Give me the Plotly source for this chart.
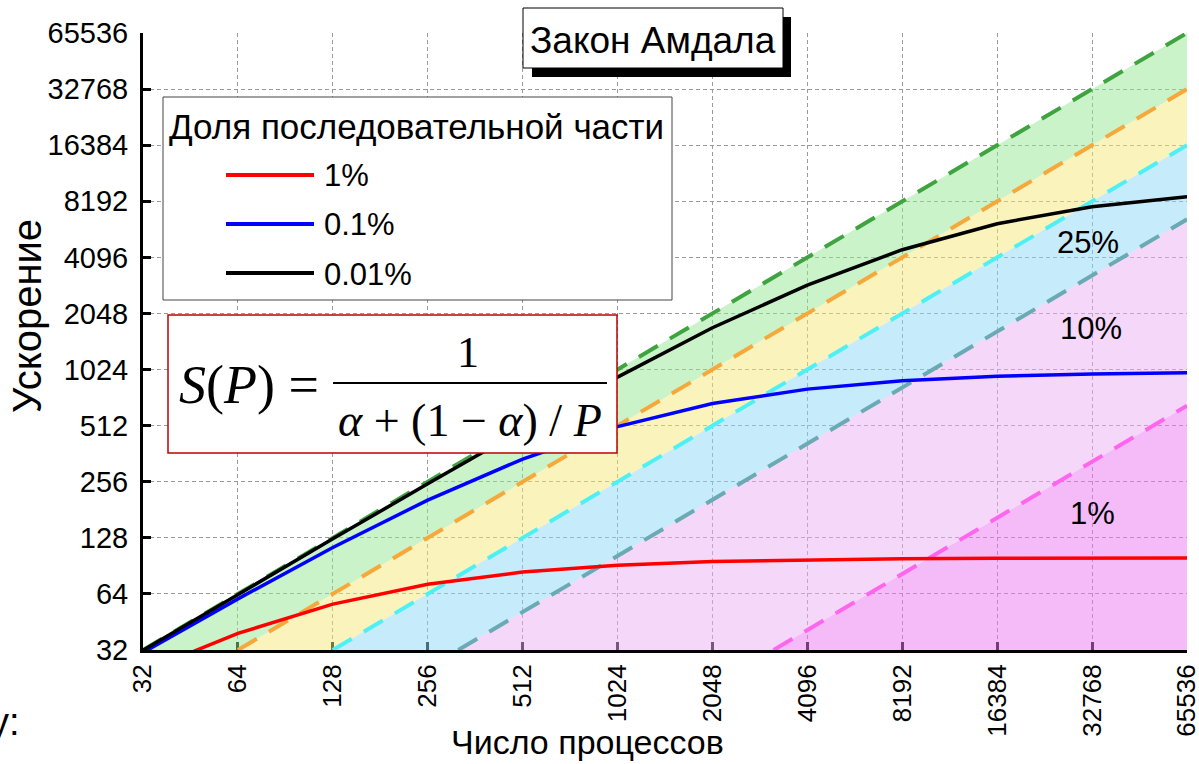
import plotly.graph_objects as go

# --- data -------------------------------------------------------------
procs = [32, 64, 128, 256, 512, 1024, 2048, 4096, 8192, 16384, 32768, 65536]
tick_text = [str(p) for p in procs]

# speedup, serial fraction 1 %, 0.1 %, 0.01 %
speedup_1 = [24.4, 39.3, 56.4, 72.1, 83.8, 91.2, 95.4, 97.6, 98.8, 99.4, 99.7, 99.8]
speedup_01 = [31.0, 60.2, 113.6, 204.0, 338.8, 506.0, 672.4, 804.0, 891.4, 942.5, 970.4, 985.0]
speedup_001 = [31.9, 63.6, 126.4, 249.4, 487.6, 933.0, 1716, 2907, 4502, 6210, 7661, 8677]

# efficiency guide lines: start / end points (P, S)
guide_100_p = [32, 65536];  guide_100_s = [32, 65536]
guide_50_p = [64, 65536];   guide_50_s = [32, 32768]
guide_25_p = [128, 65536];  guide_25_s = [32, 16384]
guide_10_p = [320, 65536];  guide_10_s = [32, 6553.6]
guide_1_p = [3200, 65536];  guide_1_s = [32, 655.36]

band_labels = ["25%", "10%", "1%"]
legend_labels = ["1%", "0.1%", "0.01%"]

# --- layout geometry (pixels of the 1199x764 page) --------------------
X0, X1, Y0, Y1 = 143, 1187, 33, 650
W, H = X1 - X0, Y1 - Y0


def px(x):
    return (x - X0) / W


def py(y):
    return (Y1 - y) / H


SANS = "Liberation Sans, Arial, sans-serif"
SERIF = "Liberation Serif, Times New Roman, serif"

fig = go.Figure()


def band(p_hi, s_hi, p_lo, s_lo, color):
    xs = list(p_hi) + list(reversed(p_lo))
    ys = list(s_hi) + list(reversed(s_lo))
    fig.add_trace(go.Scatter(x=xs, y=ys, mode="lines", fill="toself",
                             fillcolor=color, line=dict(width=0),
                             hoverinfo="skip", showlegend=False))


band(guide_100_p, guide_100_s, guide_50_p, guide_50_s, "rgba(150,232,150,0.5)")
band(guide_50_p, guide_50_s, guide_25_p, guide_25_s, "rgba(246,234,122,0.5)")
band(guide_25_p, guide_25_s, guide_10_p, guide_10_s, "rgba(142,216,248,0.5)")
band(guide_10_p, guide_10_s, guide_1_p, guide_1_s, "rgba(236,178,244,0.5)")
band(guide_1_p, guide_1_s, [32, 65536], [32, 32], "rgba(236,120,244,0.5)")

guides = [
    (guide_100_p, guide_100_s, "#3fa33f"),
    (guide_50_p, guide_50_s, "#f7a83a"),
    (guide_25_p, guide_25_s, "#4ff0f5"),
    (guide_10_p, guide_10_s, "#6aaab5"),
    (guide_1_p, guide_1_s, "#ff66ee"),
]
for gp, gs, col in guides:
    fig.add_trace(go.Scatter(x=gp, y=gs, mode="lines",
                             line=dict(color=col, width=4, dash="22px,14px"),
                             hoverinfo="skip", showlegend=False))

curves = [(speedup_1, "#ff0000"), (speedup_01, "#0000ff"), (speedup_001, "#000000")]
for s, col in curves:
    fig.add_trace(go.Scatter(x=procs, y=s, mode="lines",
                             line=dict(color=col, width=3.5),
                             showlegend=False))

axis_common = dict(
    type="log", tickvals=procs, ticktext=tick_text,
    showline=True, linewidth=3, linecolor="black",
    ticks="inside", ticklen=8, tickwidth=3, tickcolor="black",
    showgrid=True, gridcolor="#9a9a9a", gridwidth=1, griddash="4px,3px",
    zeroline=False, mirror=False, automargin=False, layer="below traces",
    ticklabeloverflow="allow",
)

fig.update_layout(
    template="none",
    width=1199, height=764,
    margin=dict(l=X0, r=1199 - X1, t=Y0, b=764 - Y1, pad=0),
    paper_bgcolor="white", plot_bgcolor="white",
    showlegend=False,
    xaxis=dict(range=[1.50515, 4.81648], tickangle=-90, ticklabelstandoff=1,
               tickfont=dict(family=SANS, size=26, color="black"), **axis_common),
    yaxis=dict(range=[1.50515, 4.81648], ticklabelstandoff=6,
               tickfont=dict(family=SANS, size=29, color="black"), **axis_common),
    font=dict(family=SANS, color="black"),
)

shapes = []
annotations = []


def label(text, x, y, size, family=SANS, xanchor="center", angle=0):
    annotations.append(dict(text=text, xref="paper", yref="paper",
                            x=px(x), y=py(y), xanchor=xanchor, yanchor="middle",
                            textangle=angle, showarrow=False,
                            font=dict(family=family, size=size, color="black")))


# title box with shadow
shapes.append(dict(type="rect", xref="paper", yref="paper",
                   x0=px(532), x1=px(791), y0=py(77), y1=py(17),
                   fillcolor="black", line=dict(width=0), layer="above"))
shapes.append(dict(type="rect", xref="paper", yref="paper",
                   x0=px(523), x1=px(783), y0=py(68), y1=py(8),
                   fillcolor="white", line=dict(color="black", width=1), layer="above"))
label("Закон Амдала", 653, 40, 37)

# legend box
shapes.append(dict(type="rect", xref="paper", yref="paper",
                   x0=px(163), x1=px(672), y0=py(300), y1=py(97),
                   fillcolor="white", line=dict(color="#444", width=1), layer="above"))
label("Доля последовательной части", 167, 126, 35, xanchor="left")
leg_y = [176, 225, 274]
for (s, col), lab, yy in zip(curves, legend_labels, leg_y):
    shapes.append(dict(type="line", xref="paper", yref="paper",
                       x0=px(226), x1=px(314), y0=py(yy - 1), y1=py(yy - 1),
                       line=dict(color=col, width=4), layer="above"))
    label(lab, 322, yy, 31, xanchor="left")

# formula box
shapes.append(dict(type="rect", xref="paper", yref="paper",
                   x0=px(168), x1=px(617), y0=py(453), y1=py(315),
                   fillcolor="white", line=dict(color="#c00000", width=1.5), layer="above"))
label("<i>S</i>(<i>P</i>) =", 177, 385, 54, family=SERIF, xanchor="left")
shapes.append(dict(type="line", xref="paper", yref="paper",
                   x0=px(333), x1=px(607), y0=py(383), y1=py(383),
                   line=dict(color="black", width=2), layer="above"))
label("1", 468, 352, 44, family=SERIF)
label("<i>α</i> + (1 − <i>α</i>) / <i>P</i>", 470, 420, 46, family=SERIF)

# efficiency band labels
for lab, (xx, yy) in zip(band_labels, [(1088, 243), (1091, 328), (1092, 513)]):
    label(lab, xx, yy, 31)

# axis titles
label("Ускорение", 27, 316, 40, angle=-90)
label("Число процессов", 587, 742, 34)
label("у:", 22, 722, 38, xanchor="right")

fig.update_layout(shapes=shapes, annotations=annotations)
fig.write_html("out.html")
